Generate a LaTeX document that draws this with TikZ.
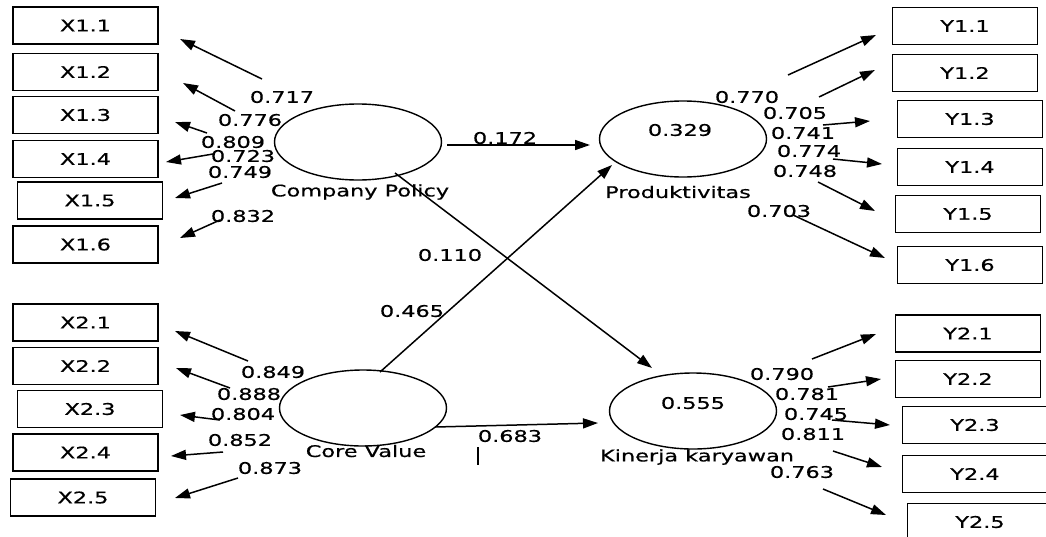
\documentclass[tikz,border=0pt]{standalone}
\usepackage{fontspec}
\newfontfamily\lab{DejaVu Sans}[FakeStretch=1.4,FakeBold=0.6]
\usetikzlibrary{shapes.geometric,arrows.meta}
\begin{document}
\begin{tikzpicture}[x=1pt,y=-1pt,
  lbl/.style={font=\lab\fontsize{16}{18}\selectfont, inner sep=0pt},
  ind/.style={draw, line width=1.8pt, minimum width=145pt, minimum height=37pt, inner sep=0pt, font=\lab\fontsize{16}{18}\selectfont},
  lat/.style={draw, ellipse, line width=1.4pt, minimum width=167pt, minimum height=76pt, inner sep=0pt},
  conn/.style={line width=1.5pt, -{Triangle[length=15pt,width=10pt]}}]
\useasboundingbox (0,0) rectangle (1046,536);
% latent variables
\node[lat] (cp) at (358,142) {};
\node[lat] (prod) at (683,139) {};
\node[lat] (cv) at (363,408) {};
\node[lat] (kin) at (693,411) {};
\node[lbl] (cpname) at (360,192) {Company Policy};
\node[lbl] (prodname) at (678,192) {Produktivitas};
\node[lbl] (cvname) at (366,451) {Core Value};
\node[lbl] (kinname) at (697,457) {Kinerja karyawan};
\node[lbl] (prodr2) at (680,130) {0.329};
\node[lbl] (kinr2) at (693,403) {0.555};
% indicator boxes
\node[ind] (x11) at (85.5,25.5) {X1.1};
\node[ind] (x12) at (85.5,72) {X1.2};
\node[ind] (x13) at (85.5,115) {X1.3};
\node[ind] (x14) at (85.5,159) {X1.4};
\node[ind] (x15) at (90,200.5) {X1.5};
\node[ind] (x16) at (85.5,244.5) {X1.6};
\node[ind] (x21) at (85.5,322.5) {X2.1};
\node[ind] (x22) at (85.5,366) {X2.2};
\node[ind] (x23) at (90,409) {X2.3};
\node[ind] (x24) at (85.5,452.5) {X2.4};
\node[ind] (x25) at (83,497.5) {X2.5};
\node[ind] (y11) at (965,26) {Y1.1};
\node[ind] (y12) at (965,73) {Y1.2};
\node[ind] (y13) at (970,119) {Y1.3};
\node[ind] (y14) at (970,167) {Y1.4};
\node[ind] (y15) at (968,214) {Y1.5};
\node[ind] (y16) at (970,265) {Y1.6};
\node[ind] (y21) at (968,333.5) {Y2.1};
\node[ind] (y22) at (968,379) {Y2.2};
\node[ind] (y23) at (975,425) {Y2.3};
\node[ind] (y24) at (975,474) {Y2.4};
\node[ind] (y25) at (980,522) {Y2.5};
% arrow end points
\coordinate (s11) at (262,79);  \coordinate (t11) at (180,39);
\coordinate (s12) at (235,111); \coordinate (t12) at (183,83);
\coordinate (s13) at (207,133); \coordinate (t13) at (175,122);
\coordinate (s14) at (213,154); \coordinate (t14) at (166,162);
\coordinate (s15) at (222,183); \coordinate (t15) at (175,198);
\coordinate (s16) at (220,220); \coordinate (t16) at (180,238);
\coordinate (s21) at (248,361); \coordinate (t21) at (175,331);
\coordinate (s22) at (230,388); \coordinate (t22) at (176,368);
\coordinate (s23) at (220,420); \coordinate (t23) at (180,415);
\coordinate (s24) at (223,452); \coordinate (t24) at (171,456);
\coordinate (s25) at (238,478); \coordinate (t25) at (175,498);
\coordinate (u11) at (788,75);  \coordinate (v11) at (876,35);
\coordinate (u12) at (819,97);  \coordinate (v12) at (875,70);
\coordinate (u13) at (823,125); \coordinate (v13) at (870,121);
\coordinate (u14) at (833,159); \coordinate (v14) at (882,164);
\coordinate (u15) at (818,182); \coordinate (v15) at (875,211);
\coordinate (u16) at (793,215); \coordinate (v16) at (885,258);
\coordinate (u21) at (812,359); \coordinate (v21) at (876,334);
\coordinate (u22) at (828,387); \coordinate (v22) at (881,379);
\coordinate (u23) at (832,420); \coordinate (v23) at (890,425);
\coordinate (u24) at (833,451); \coordinate (v24) at (882,467);
\coordinate (u25) at (823,489); \coordinate (v25) at (886,515);
% outer loadings
\draw[conn] (s11) -- (t11); \draw[conn] (s12) -- (t12); \draw[conn] (s13) -- (t13);
\draw[conn] (s14) -- (t14); \draw[conn] (s15) -- (t15); \draw[conn] (s16) -- (t16);
\draw[conn] (s21) -- (t21); \draw[conn] (s22) -- (t22); \draw[conn] (s23) -- (t23);
\draw[conn] (s24) -- (t24); \draw[conn] (s25) -- (t25);
\draw[conn] (u11) -- (v11); \draw[conn] (u12) -- (v12); \draw[conn] (u13) -- (v13);
\draw[conn] (u14) -- (v14); \draw[conn] (u15) -- (v15); \draw[conn] (u16) -- (v16);
\draw[conn] (u21) -- (v21); \draw[conn] (u22) -- (v22); \draw[conn] (u23) -- (v23);
\draw[conn] (u24) -- (v24); \draw[conn] (u25) -- (v25);
% structural paths
\coordinate (p1s) at (447,145); \coordinate (p1t) at (590,145);
\coordinate (p2s) at (395,173); \coordinate (p2t) at (652,368);
\coordinate (p3s) at (380,372); \coordinate (p3t) at (612,165);
\coordinate (p4s) at (435,427); \coordinate (p4t) at (598,423);
\draw[conn] (p1s) -- (p1t);
\draw[conn] (p2s) -- (p2t);
\draw[conn] (p3s) -- (p3t);
\draw[conn] (p4s) -- (p4t);
\node[lbl] (l172) at (505,138) {0.172};
\node[lbl] (l110) at (450,255) {0.110};
\node[lbl] (l465) at (412,311) {0.465};
\node[lbl] (l683) at (510,436) {0.683};
\draw[line width=1.6pt] (478,447) -- (478,465);
% loading labels
\node[lbl] (l717) at (282,97) {0.717};
\node[lbl] (l776) at (250,120) {0.776};
\node[lbl] (l809) at (233,142) {0.809};
\node[lbl] (l723) at (243,156) {0.723};
\node[lbl] (l749) at (240,172) {0.749};
\node[lbl] (l832) at (243,216) {0.832};
\node[lbl] (l849) at (273,372) {0.849};
\node[lbl] (l888) at (249,394) {0.888};
\node[lbl] (l804) at (243,414) {0.804};
\node[lbl] (l852) at (240,440) {0.852};
\node[lbl] (l873) at (270,468) {0.873};
\node[lbl] (l770) at (747,97) {0.770};
\node[lbl] (l705) at (795,113) {0.705};
\node[lbl] (l741) at (803,133) {0.741};
\node[lbl] (l774) at (809,151) {0.774};
\node[lbl] (l748) at (805,171) {0.748};
\node[lbl] (l703) at (779,211) {0.703};
\node[lbl] (l790) at (782,374) {0.790};
\node[lbl] (l781) at (807,394) {0.781};
\node[lbl] (l745) at (816,414) {0.745};
\node[lbl] (l811) at (813,434) {0.811};
\node[lbl] (l763) at (802,472) {0.763};
\end{tikzpicture}
\end{document}
